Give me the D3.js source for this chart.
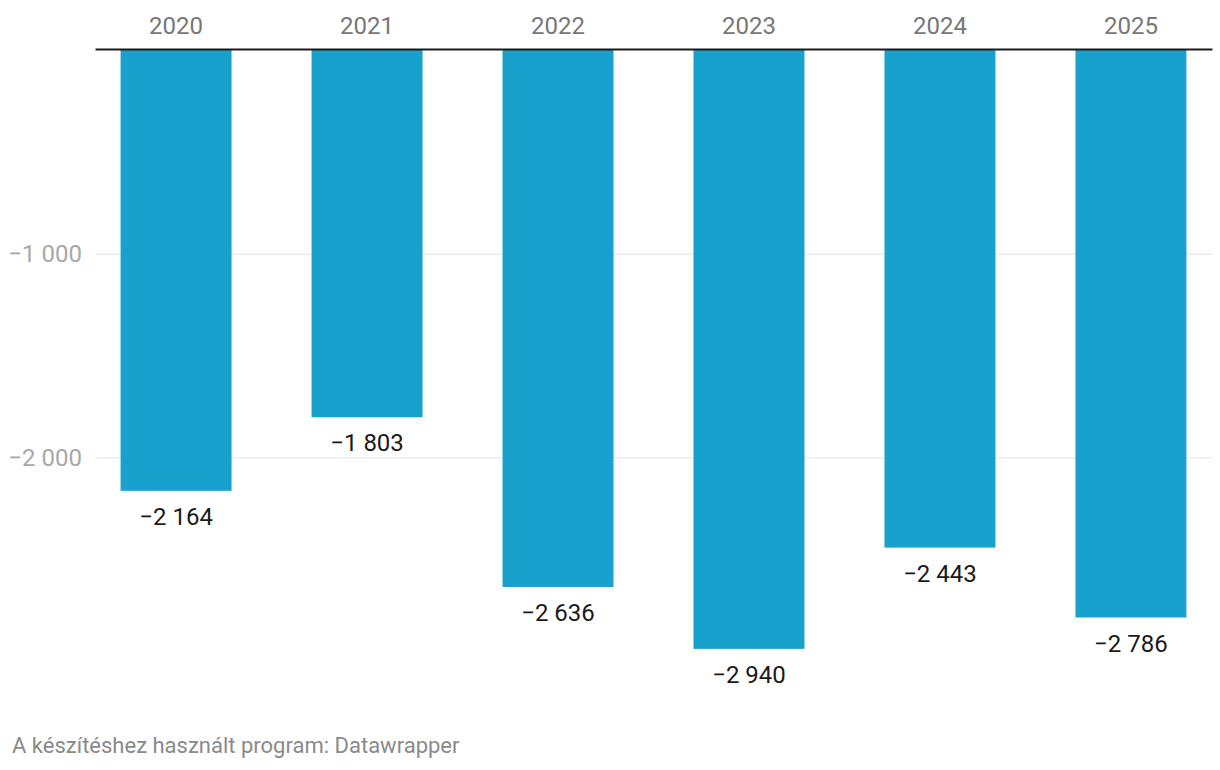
<!DOCTYPE html>
<html>
<head>
<meta charset="utf-8">
<script src="https://cdn.jsdelivr.net/npm/d3@7"></script>
<style>
  body { margin: 0; background: #fff; font-family: Roboto, sans-serif; }
  svg { display: block; }
</style>
</head>
<body>
<div id="chart"></div>
<script>
const years = ["2020", "2021", "2022", "2023", "2024", "2025"];
const values = [-2164, -1803, -2636, -2940, -2443, -2786];
const yTicks = [-1000, -2000];
const footerText = "A készítéshez használt program: Datawrapper";

const width = 1220;
const height = 770;

const locale = d3.formatLocale({ decimal: ",", thousands: " ", grouping: [3], currency: ["", ""], minus: "\u2212" });
const fmt = locale.format(",d");

const svg = d3.select("#chart").append("svg")
    .attr("width", width)
    .attr("height", height);

// scales
const xscale = d3.scaleBand()
    .domain(years)
    .range([95, 1212])
    .paddingInner(0.419)
    .paddingOuter(0.134);

const yscale = d3.scaleLinear()
    .domain([0, -1000])
    .range([50, 253.7]);

// gridlines + y labels
const yaxis = d3.axisLeft(yscale)
    .tickValues(yTicks)
    .tickSize(-(1212 - 96))
    .tickPadding(14)
    .tickFormat(fmt);

const g_yaxis = svg.append("g")
    .attr("transform", "translate(96,0)")
    .call(yaxis);
g_yaxis.select(".domain").remove();
g_yaxis.selectAll(".tick line").attr("stroke", "#e3e3e3").attr("stroke-width", 1);
g_yaxis.selectAll(".tick text")
    .attr("fill", "#a8a8a8")
    .attr("font-size", 24)
    .attr("font-family", "Roboto, sans-serif")
    .attr("x", -14);

// bars
svg.append("g").selectAll("rect")
    .data(values)
    .join("rect")
    .attr("x", (d, i) => xscale(years[i]))
    .attr("width", xscale.bandwidth())
    .attr("y", yscale(0))
    .attr("height", d => yscale(d) - yscale(0))
    .attr("fill", "#18a1cd");

// value labels
svg.append("g").selectAll("text")
    .data(values)
    .join("text")
    .attr("x", (d, i) => xscale(years[i]) + xscale.bandwidth() / 2)
    .attr("y", d => yscale(d) + 34)
    .attr("text-anchor", "middle")
    .attr("font-size", 24)
    .attr("fill", "#1a1a1a")
    .text(d => fmt(d));

// zero line + year labels on top
const xaxis = d3.axisTop(xscale).tickSize(0).tickPadding(15);
const g_xaxis = svg.append("g")
    .attr("transform", `translate(0,${yscale(0) - 1})`)
    .call(xaxis);
g_xaxis.select(".domain").attr("stroke", "#1a1a1a").attr("stroke-width", 2);
g_xaxis.selectAll(".tick text")
    .attr("fill", "#777")
    .attr("font-size", 24)
    .attr("font-family", "Roboto, sans-serif");

// footer
svg.append("text")
    .attr("x", 12)
    .attr("y", 753)
    .attr("font-size", 22)
    .attr("fill", "#8a8a8a")
    .text(footerText);
</script>
</body>
</html>
